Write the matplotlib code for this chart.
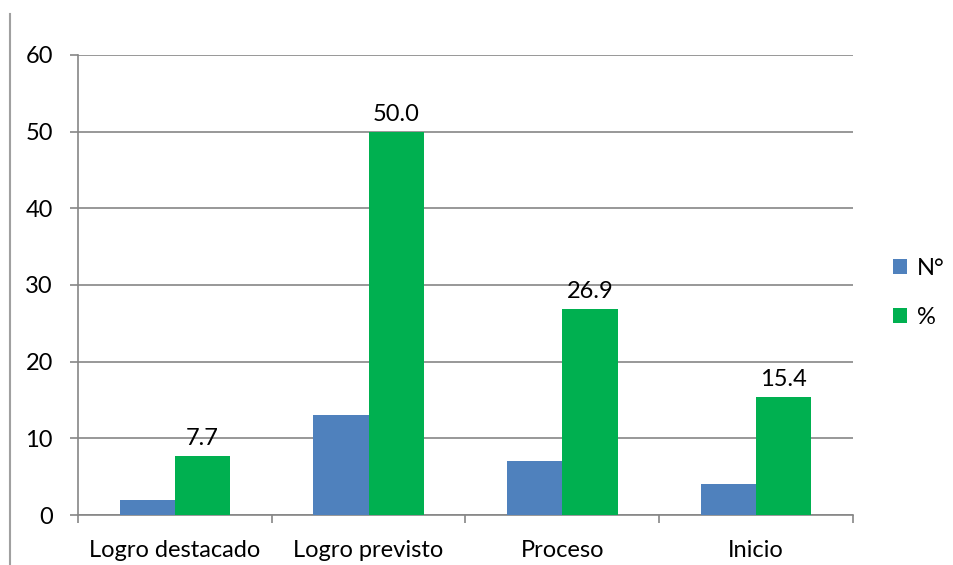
import matplotlib.pyplot as plt
from matplotlib.lines import Line2D
import numpy as np

# Data
categorias = ["Logro destacado", "Logro previsto", "Proceso", "Inicio"]
n_valores = [2, 13, 7, 4]
pct_valores = [7.7, 50.0, 26.9, 15.4]
y_ticks = [0, 10, 20, 30, 40, 50, 60]

plt.rcParams['font.family'] = ['Lato', 'DejaVu Sans']

azul = "#4F81BD"
verde = "#00B050"
gris = "#868686"
fs = 17

fig = plt.figure(figsize=(9.54, 5.65), dpi=100)
ax = fig.add_axes([78/954, 1-515/565, 775/954, 460/565])

x = np.arange(len(categorias))
w = 1/3.5

b1 = ax.bar(x - w/2, n_valores, w, color=azul, label="N°", zorder=3)
b2 = ax.bar(x + w/2, pct_valores, w, color=verde, label="%", zorder=3)

# Data labels on % bars
for xi, v in zip(x + w/2, pct_valores):
    ax.annotate(f"{v:.1f}", (xi, v), xytext=(0, 5), textcoords="offset points",
                ha="center", va="bottom", fontsize=fs)

ax.set_xlim(-0.5, len(categorias) - 0.5)
ax.set_ylim(0, 60)
ax.set_yticks(y_ticks)
ax.yaxis.grid(True, color=gris, linewidth=1.2, zorder=0)

# Category ticks at boundaries, labels at centers
ax.set_xticks(np.arange(len(categorias) + 1) - 0.5)
ax.set_xticklabels([])
ax.set_xticks(x, minor=True)
ax.set_xticklabels(categorias, minor=True, fontsize=fs)
ax.tick_params(axis="x", which="major", length=6, width=1.2, color=gris, direction="out")
ax.tick_params(axis="x", which="minor", length=0, pad=18)
ax.tick_params(axis="y", length=6, width=1.2, color=gris, labelsize=fs, pad=12)

for s in ["top", "right"]:
    ax.spines[s].set_visible(False)
for s in ["left", "bottom"]:
    ax.spines[s].set_color(gris)
    ax.spines[s].set_linewidth(1.2)

# Legend
fig.legend(handles=[b1, b2], loc="center left", bbox_to_anchor=(893/954, 1-293/565),
           frameon=False, fontsize=fs, handlelength=0.6, handleheight=0.6,
           handletextpad=0.4, labelspacing=1.2, borderpad=0, borderaxespad=0)

# Left border fragment
fig.add_artist(Line2D([10/954, 10/954], [0, 1-14/565], transform=fig.transFigure,
                      color="#A0A0A0", linewidth=1.5))

plt.savefig("out.png", dpi=100)
